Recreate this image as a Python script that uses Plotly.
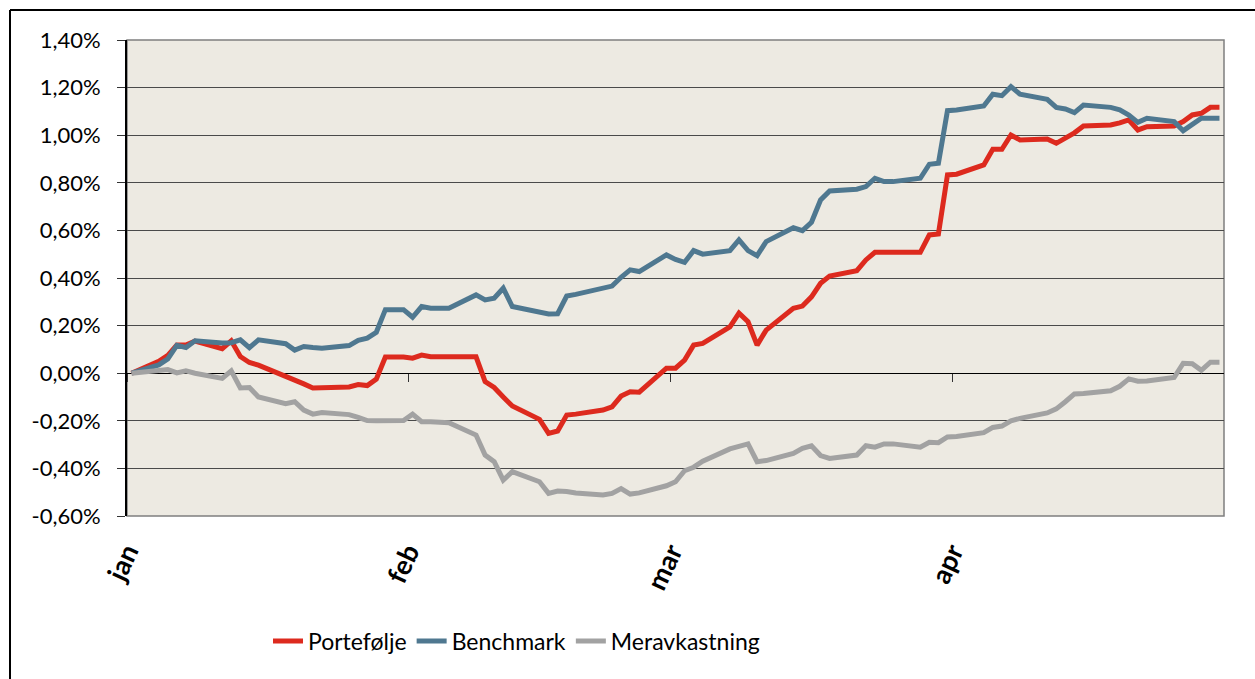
import pandas as pd
import plotly.graph_objects as go

# Observation dates (weekdays plus month-end values), 2016
dates = [
    "2016-01-01", "2016-01-04", "2016-01-05", "2016-01-06", "2016-01-07", "2016-01-08",
    "2016-01-11", "2016-01-12", "2016-01-13", "2016-01-14", "2016-01-15",
    "2016-01-18", "2016-01-19", "2016-01-20", "2016-01-21", "2016-01-22",
    "2016-01-25", "2016-01-26", "2016-01-27", "2016-01-28", "2016-01-29", "2016-01-31",
    "2016-02-01", "2016-02-02", "2016-02-03", "2016-02-04", "2016-02-05",
    "2016-02-08", "2016-02-09", "2016-02-10", "2016-02-11", "2016-02-12",
    "2016-02-15", "2016-02-16", "2016-02-17", "2016-02-18", "2016-02-19",
    "2016-02-22", "2016-02-23", "2016-02-24", "2016-02-25", "2016-02-26", "2016-02-29",
    "2016-03-01", "2016-03-02", "2016-03-03", "2016-03-04",
    "2016-03-07", "2016-03-08", "2016-03-09", "2016-03-10", "2016-03-11",
    "2016-03-14", "2016-03-15", "2016-03-16", "2016-03-17", "2016-03-18",
    "2016-03-21", "2016-03-22", "2016-03-23", "2016-03-24", "2016-03-25",
    "2016-03-28", "2016-03-29", "2016-03-30", "2016-03-31",
    "2016-04-01", "2016-04-04", "2016-04-05", "2016-04-06", "2016-04-07", "2016-04-08",
    "2016-04-11", "2016-04-12", "2016-04-13", "2016-04-14", "2016-04-15",
    "2016-04-18", "2016-04-19", "2016-04-20", "2016-04-21", "2016-04-22",
    "2016-04-25", "2016-04-26", "2016-04-27", "2016-04-28", "2016-04-29", "2016-04-30",
]

# Cumulative return, percent
portefolje = [
    0, 0.05, 0.075, 0.118, 0.118, 0.135, 0.103, 0.136, 0.07, 0.045, 0.034,
    -0.012, -0.025, -0.045, -0.062, -0.062, -0.058, -0.048, -0.052, -0.025, 0.068, 0.068,
    0.063, 0.076, 0.069, 0.069, 0.069, 0.069, -0.035, -0.06, -0.1, -0.138,
    -0.194, -0.253, -0.243, -0.176, -0.172, -0.155, -0.141, -0.096, -0.078, -0.08, 0.021,
    0.021, 0.055, 0.118, 0.125, 0.195, 0.252, 0.216, 0.118, 0.181,
    0.273, 0.282, 0.321, 0.378, 0.408, 0.431, 0.476, 0.508, 0.508, 0.508,
    0.508, 0.581, 0.585, 0.833,
    0.836, 0.875, 0.941, 0.941, 1.001, 0.98, 0.984, 0.966, 0.987, 1.01, 1.039,
    1.043, 1.052, 1.064, 1.022, 1.036, 1.039, 1.057, 1.085, 1.092, 1.117, 1.117,
]

benchmark = [
    0, 0.035, 0.06, 0.117, 0.108, 0.136, 0.127, 0.128, 0.14, 0.107, 0.14,
    0.124, 0.097, 0.112, 0.108, 0.105, 0.116, 0.138, 0.147, 0.172, 0.267, 0.267,
    0.235, 0.28, 0.273, 0.273, 0.273, 0.329, 0.308, 0.315, 0.357, 0.28,
    0.258, 0.249, 0.25, 0.324, 0.331, 0.36, 0.366, 0.403, 0.434, 0.427, 0.497,
    0.478, 0.466, 0.515, 0.5, 0.515, 0.56, 0.515, 0.494, 0.553,
    0.611, 0.599, 0.634, 0.728, 0.766, 0.773, 0.784, 0.819, 0.805, 0.805,
    0.819, 0.878, 0.882, 1.103,
    1.106, 1.123, 1.172, 1.166, 1.204, 1.172, 1.151, 1.117, 1.11, 1.095, 1.127,
    1.117, 1.107, 1.085, 1.054, 1.071, 1.057, 1.019, 1.046, 1.071, 1.071, 1.071,
]

meravkastning = [
    0, 0.015, 0.015, 0.001, 0.01, 0.0, -0.022, 0.01, -0.062, -0.06, -0.1,
    -0.128, -0.12, -0.155, -0.172, -0.165, -0.174, -0.186, -0.199, -0.2, -0.199, -0.199,
    -0.172, -0.204, -0.204, -0.204, -0.208, -0.26, -0.344, -0.372, -0.449, -0.414,
    -0.456, -0.505, -0.495, -0.497, -0.503, -0.512, -0.505, -0.485, -0.508, -0.503, -0.473,
    -0.456, -0.41, -0.395, -0.37, -0.318, -0.305, -0.297, -0.372, -0.367,
    -0.337, -0.316, -0.305, -0.346, -0.358, -0.344, -0.305, -0.311, -0.297, -0.297,
    -0.311, -0.29, -0.292, -0.268,
    -0.266, -0.25, -0.228, -0.222, -0.2, -0.19, -0.167, -0.15, -0.12, -0.087, -0.085,
    -0.074, -0.055, -0.024, -0.034, -0.033, -0.018, 0.042, 0.04, 0.012, 0.046, 0.046,
]

series_names = ["Portefølje", "Benchmark", "Meravkastning"]
series_colors = ["#DD2A1E", "#4F7890", "#A2A2A2"]

month_ticks = ["2016-01-01", "2016-02-01", "2016-03-01", "2016-04-01"]
month_labels = ["jan", "feb", "mar", "apr"]

y_ticks = [-0.6, -0.4, -0.2, 0.0, 0.2, 0.4, 0.6, 0.8, 1.0, 1.2, 1.4]
y_labels = [f"{v:.2f}%".replace(".", ",") for v in y_ticks]

# each day is a bin on the date axis; points sit mid-bin
x = pd.to_datetime(dates) + pd.Timedelta(hours=12)

W, H = 1255, 679
ML, MR, MT, MB = 127, 31, 40, 163
PW, PH = W - ML - MR, H - MT - MB

FONT = "Lato, 'Open Sans', sans-serif"

fig = go.Figure()
for name, vals, col in zip(series_names, [portefolje, benchmark, meravkastning], series_colors):
    fig.add_trace(go.Scatter(
        x=x, y=vals, name=name, mode="lines",
        line=dict(color=col, width=5),
    ))

# invisible companion trace so the zero-line tick axis is rendered
fig.add_trace(go.Scatter(x=x[:1], y=[0], xaxis="x2", mode="markers",
                         marker=dict(opacity=0), showlegend=False, hoverinfo="skip"))


def px_x(p):
    return (p - ML) / PW


def px_y(p):
    return 1 - (p - MT) / PH


fig.update_layout(
    width=W, height=H,
    margin=dict(l=ML, r=MR, t=MT, b=MB),
    paper_bgcolor="white",
    plot_bgcolor="#EDEAE2",
    font=dict(family=FONT, color="black"),
    showlegend=True,
    legend=dict(
        orientation="h", x=px_x(268), xanchor="left", y=px_y(641), yanchor="middle",
        font=dict(size=23, family=FONT), itemwidth=30, bgcolor="rgba(0,0,0,0)",
    ),
    xaxis=dict(
        type="date", range=["2016-01-01", "2016-05-01"],
        tickmode="array", tickvals=month_ticks, ticktext=month_labels,
        tickangle=-65, ticks="", showgrid=False, zeroline=False, showline=False,
        tickfont=dict(size=27, family=FONT, color="black", weight="bold"),
        ticklabelstandoff=14,
    ),
    xaxis2=dict(
        type="date", overlaying="x", matches="x", anchor="free",
        position=(0 - y_ticks[0]) / (y_ticks[-1] - y_ticks[0]), side="bottom",
        tickmode="array", tickvals=month_ticks, ticks="outside", ticklen=8,
        tickwidth=1, tickcolor="#333333", showticklabels=False,
        showgrid=False, zeroline=False, showline=False,
    ),
    yaxis=dict(
        range=[y_ticks[0], y_ticks[-1]], tickmode="array",
        tickvals=y_ticks, ticktext=y_labels,
        showgrid=True, gridcolor="#4a4a4a", gridwidth=1,
        zeroline=True, zerolinecolor="black", zerolinewidth=1,
        showline=True, linecolor="black", linewidth=2,
        ticks="outside", ticklen=8, tickcolor="#333333", tickwidth=1,
        tickfont=dict(size=22, family=FONT, color="black"),
        ticklabelstandoff=12,
    ),
    shapes=[
        # plot-area frame (top / right / bottom)
        dict(type="rect", xref="paper", yref="paper", x0=0, x1=1, y0=0, y1=1,
             line=dict(color="#7f7f7f", width=1.5), layer="below"),
        # outer chart border
        dict(type="line", xref="paper", yref="paper",
             x0=px_x(10), x1=px_x(10), y0=px_y(10), y1=px_y(H + 20),
             line=dict(color="black", width=2)),
        dict(type="line", xref="paper", yref="paper",
             x0=px_x(10), x1=px_x(W + 20), y0=px_y(10), y1=px_y(10),
             line=dict(color="black", width=2)),
    ],
)

fig.write_html("out.html")
